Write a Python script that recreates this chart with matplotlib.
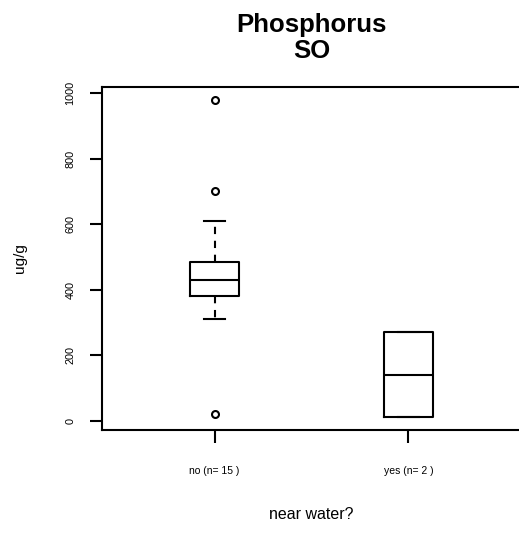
import matplotlib
matplotlib.use("Agg")
import matplotlib.pyplot as plt

plt.rcParams['font.family'] = ['Liberation Sans', 'DejaVu Sans']

# box statistics (ug/g)
groups = ["no", "yes"]
counts = [15, 2]
whisker_low = [310, 10]
q1 = [380, 10]
medians = [430, 140]
q3 = [485, 270]
whisker_high = [610, 270]
outliers = [[980, 700, 20], []]

stats = []
for i in range(len(groups)):
    stats.append({
        "label": "%s (n= %i )" % (groups[i], counts[i]),
        "whislo": whisker_low[i], "q1": q1[i], "med": medians[i],
        "q3": q3[i], "whishi": whisker_high[i], "fliers": outliers[i],
    })

fig = plt.figure(figsize=(5.19, 5.36), dpi=100)
ax = fig.add_axes([102 / 519, 106 / 536, 419 / 519, 343 / 536])

lw = 1.5
ax.bxp(stats, positions=[1, 2], widths=0.25, capwidths=0.11,
       boxprops=dict(color="black", linewidth=lw),
       medianprops=dict(color="black", linewidth=lw),
       whiskerprops=dict(color="black", linewidth=lw, linestyle=(0, (3.5, 3.2))),
       capprops=dict(color="black", linewidth=lw),
       flierprops=dict(marker="o", markerfacecolor="none", markeredgecolor="black",
                       markersize=5, markeredgewidth=1.5))

ax.set_xlim(0.42, 2.58)
ax.set_ylim(-28.8, 1018.8)
ax.set_yticks([0, 200, 400, 600, 800, 1000])
ax.set_yticklabels(["0", "200", "400", "600", "800", "1000"], rotation=90, va="center")
ax.tick_params(axis="y", length=9, width=lw, labelsize=7.8, pad=10)
ax.tick_params(axis="x", length=9, width=lw, labelsize=7.5, pad=17)

for s in ax.spines.values():
    s.set_linewidth(lw)

ax.set_ylabel("ug/g", fontsize=11)
ax.yaxis.set_label_coords(-0.179, 0.5)
ax.set_xlabel("near water?", fontsize=11.5)
ax.xaxis.set_label_coords(0.5, -0.225)

ax.set_title("Phosphorus\nSO", fontsize=18.5, fontweight="bold", pad=21, linespacing=1.12)

fig.savefig("out.png", dpi=100)
